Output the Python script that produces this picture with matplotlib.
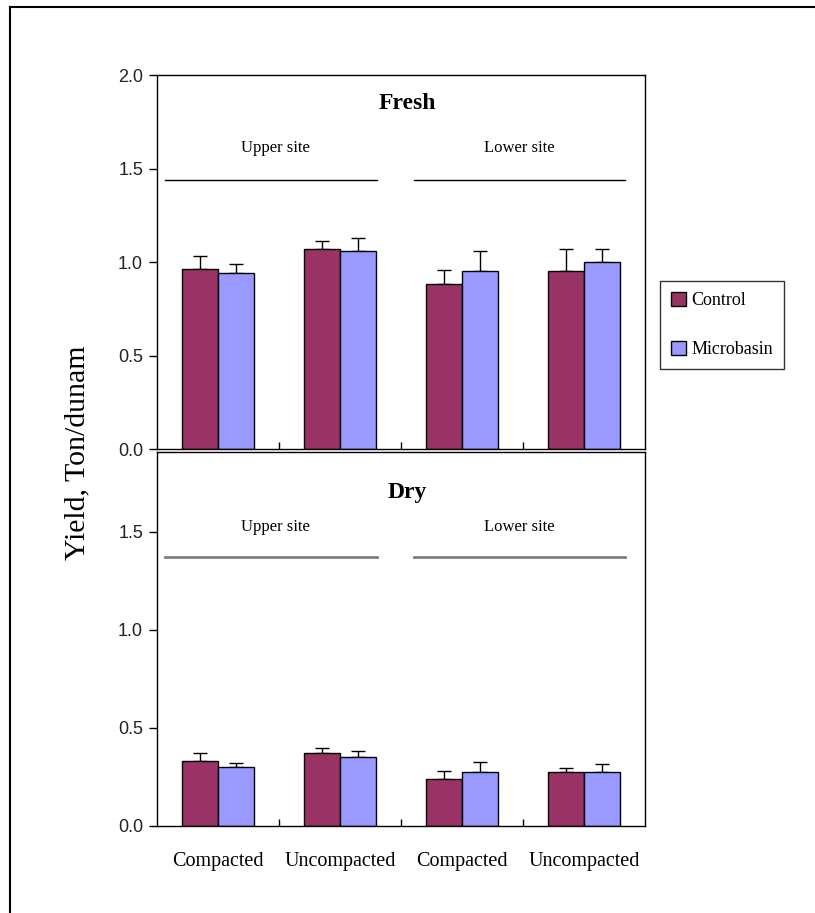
import numpy as np
import matplotlib.pyplot as plt
from matplotlib.lines import Line2D
from matplotlib.patches import Patch

categories = ['Compacted', 'Uncompacted', 'Compacted', 'Uncompacted']
series = ['Control', 'Microbasin']
colors = ['#993366', '#9999FF']

fresh_control = [0.96, 1.07, 0.88, 0.95]
fresh_micro = [0.94, 1.06, 0.95, 1.00]
fresh_control_err = [0.07, 0.04, 0.075, 0.12]
fresh_micro_err = [0.05, 0.07, 0.11, 0.07]

dry_control = [0.33, 0.37, 0.24, 0.275]
dry_micro = [0.30, 0.35, 0.275, 0.275]
dry_control_err = [0.04, 0.03, 0.04, 0.02]
dry_micro_err = [0.02, 0.035, 0.05, 0.04]

serif = 'Liberation Serif'
sans = 'Liberation Sans'

fig = plt.figure(figsize=(8.15, 9.13), dpi=100)

# outer frame (only top and left edges visible)
fig.add_artist(Line2D([10 / 815, 10 / 815], [0, 1 - 7 / 913], color='black', lw=1.5))
fig.add_artist(Line2D([10 / 815, 1], [1 - 7 / 913, 1 - 7 / 913], color='black', lw=1.5))

ax1 = fig.add_axes([157 / 815, 1 - 449 / 913, 488 / 815, 374 / 913])
ax2 = fig.add_axes([157 / 815, 1 - 826 / 913, 488 / 815, 374 / 913])

x = np.arange(len(categories))
w = 0.295


def draw_panel(ax, ctrl, micro, ctrl_err, micro_err, ymax, yticks, title, title_y,
               label_y, line_y, line_color, line_w):
    ax.bar(x - w / 2, ctrl, w, color=colors[0], edgecolor='black', linewidth=1, zorder=2)
    ax.bar(x + w / 2, micro, w, color=colors[1], edgecolor='black', linewidth=1, zorder=2)
    ax.errorbar(x - w / 2, ctrl, yerr=[np.zeros(len(ctrl)), ctrl_err], fmt='none',
                ecolor='black', elinewidth=1, capsize=5, capthick=1, zorder=1)
    ax.errorbar(x + w / 2, micro, yerr=[np.zeros(len(micro)), micro_err], fmt='none',
                ecolor='black', elinewidth=1, capsize=5, capthick=1, zorder=1)
    ax.set_xlim(-0.5, 3.5)
    ax.set_ylim(0, ymax)
    ax.set_yticks(yticks)
    ax.set_yticklabels(['%.1f' % t for t in yticks], fontsize=13, family=sans, color='#222222')
    ax.tick_params(axis='y', direction='out', length=6, width=1, pad=4)
    ax.set_xticks(x)
    ax.set_xticks([0.5, 1.5, 2.5], minor=True)
    ax.tick_params(axis='x', which='major', length=0)
    ax.tick_params(axis='x', which='minor', direction='in', length=5, width=1)
    for s in ax.spines.values():
        s.set_linewidth(1)
    ax.text(1.55, title_y, title, ha='center', va='center', fontsize=17, family=serif,
            fontweight='bold')
    ax.text(0.47, label_y, 'Upper site', ha='center', va='center', fontsize=12, family=serif)
    ax.text(2.47, label_y, 'Lower site', ha='center', va='center', fontsize=12, family=serif)
    ax.plot([-0.434, 1.303], [line_y, line_y], color=line_color, lw=line_w)
    ax.plot([1.607, 3.336], [line_y, line_y], color=line_color, lw=line_w)


draw_panel(ax1, fresh_control, fresh_micro, fresh_control_err, fresh_micro_err,
           2.0, [0.0, 0.5, 1.0, 1.5, 2.0], 'Fresh', 1.85, 1.61, 1.44, 'black', 1)
draw_panel(ax2, dry_control, dry_micro, dry_control_err, dry_micro_err,
           1.908, [0.0, 0.5, 1.0, 1.5], 'Dry', 1.70, 1.525, 1.37, '#808080', 2)

ax1.set_xticklabels([])
ax2.set_xticklabels(categories, fontsize=14.5, family=serif)
ax2.tick_params(axis='x', which='major', pad=19)

fig.text(77 / 815, 1 - 453 / 913, 'Yield, Ton/dunam', rotation=90, ha='center', va='center',
         fontsize=21.5, family=serif)

handles = [Patch(facecolor=c, edgecolor='black', linewidth=1) for c in colors]
leg = fig.legend(handles, series, loc='center', bbox_to_anchor=(722 / 815, 1 - 325 / 913),
                 prop={'family': serif, 'size': 13}, frameon=True, fancybox=False,
                 edgecolor='black', handlelength=0.8, handleheight=0.8, handletextpad=0.3,
                 labelspacing=1.75, borderpad=0.6, borderaxespad=0)
leg.get_frame().set_linewidth(1)

fig.savefig('out.png', dpi=100)
